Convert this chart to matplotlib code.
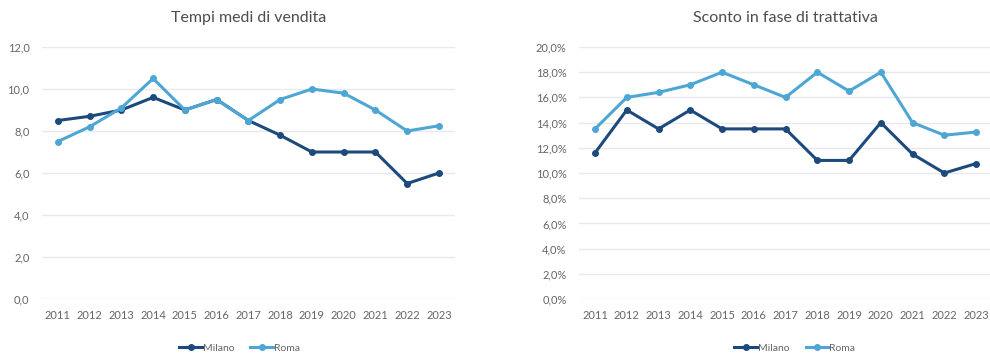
import matplotlib
matplotlib.use("Agg")
import matplotlib.pyplot as plt
from matplotlib.ticker import FuncFormatter, MultipleLocator

plt.rcParams["font.family"] = ["Lato", "DejaVu Sans"]

years = list(range(2011, 2024))

# tempi medi di vendita (mesi)
tempi_milano = [8.5, 8.7, 9.0, 9.6, 9.0, 9.5, 8.5, 7.8, 7.0, 7.0, 7.0, 5.5, 6.0]
tempi_roma = [7.5, 8.2, 9.1, 10.5, 9.0, 9.5, 8.5, 9.5, 10.0, 9.8, 9.0, 8.0, 8.25]

# sconto in fase di trattativa (%)
sconto_milano = [11.6, 15.0, 13.5, 15.0, 13.5, 13.5, 13.5, 11.0, 11.0, 14.0, 11.5, 10.0, 10.75]
sconto_roma = [13.5, 16.0, 16.4, 17.0, 18.0, 17.0, 16.0, 18.0, 16.5, 18.0, 14.0, 13.0, 13.25]

MILANO = "#1d4a7c"
ROMA = "#4ea6d4"
TEXT = "#666666"
GRID = "#e6e9ee"

fig = plt.figure(figsize=(9.9, 3.56), dpi=100)
ax1 = fig.add_axes([0.0424, 0.160, 0.417, 0.708])
ax2 = fig.add_axes([0.585, 0.160, 0.417, 0.708])


def style(ax, title, ymax, step, fmt):
    ax.set_xlim(2010.5, 2023.5)
    ax.set_ylim(0, ymax)
    ax.yaxis.set_major_locator(MultipleLocator(step))
    ax.yaxis.set_major_formatter(FuncFormatter(fmt))
    ax.set_xticks(years)
    ax.set_xticklabels([str(y) for y in years])
    ax.grid(axis="y", color=GRID, linewidth=1)
    ax.set_axisbelow(True)
    for s in ax.spines.values():
        s.set_visible(False)
    ax.tick_params(length=0, labelsize=8, colors=TEXT, pad=8)
    ax.tick_params(axis="y", pad=9)
    ax.set_title(title, fontsize=11.5, color="#4d4d4d", pad=18)


def draw(ax, milano, roma):
    ax.plot(years, milano, "-o", color=MILANO, lw=2.2, ms=4, label="Milano")
    ax.plot(years, roma, "-o", color=ROMA, lw=2.2, ms=4, label="Roma")


draw(ax1, tempi_milano, tempi_roma)
style(ax1, "Tempi medi di vendita", 12, 2,
      lambda v, p: f"{v:.1f}".replace(".", ","))

draw(ax2, sconto_milano, sconto_roma)
style(ax2, "Sconto in fase di trattativa", 20, 2,
      lambda v, p: f"{v:.1f}%".replace(".", ","))

for ax, cx in [(ax1, 0.242), (ax2, 0.803)]:
    h, l = ax.get_legend_handles_labels()
    fig.legend(h, l, loc="center", bbox_to_anchor=(cx, 0.022), ncol=2,
               frameon=False, fontsize=7.5, labelcolor=TEXT,
               handlelength=2.2, handletextpad=0.1, columnspacing=1.5)

fig.savefig("out.png", dpi=100)
